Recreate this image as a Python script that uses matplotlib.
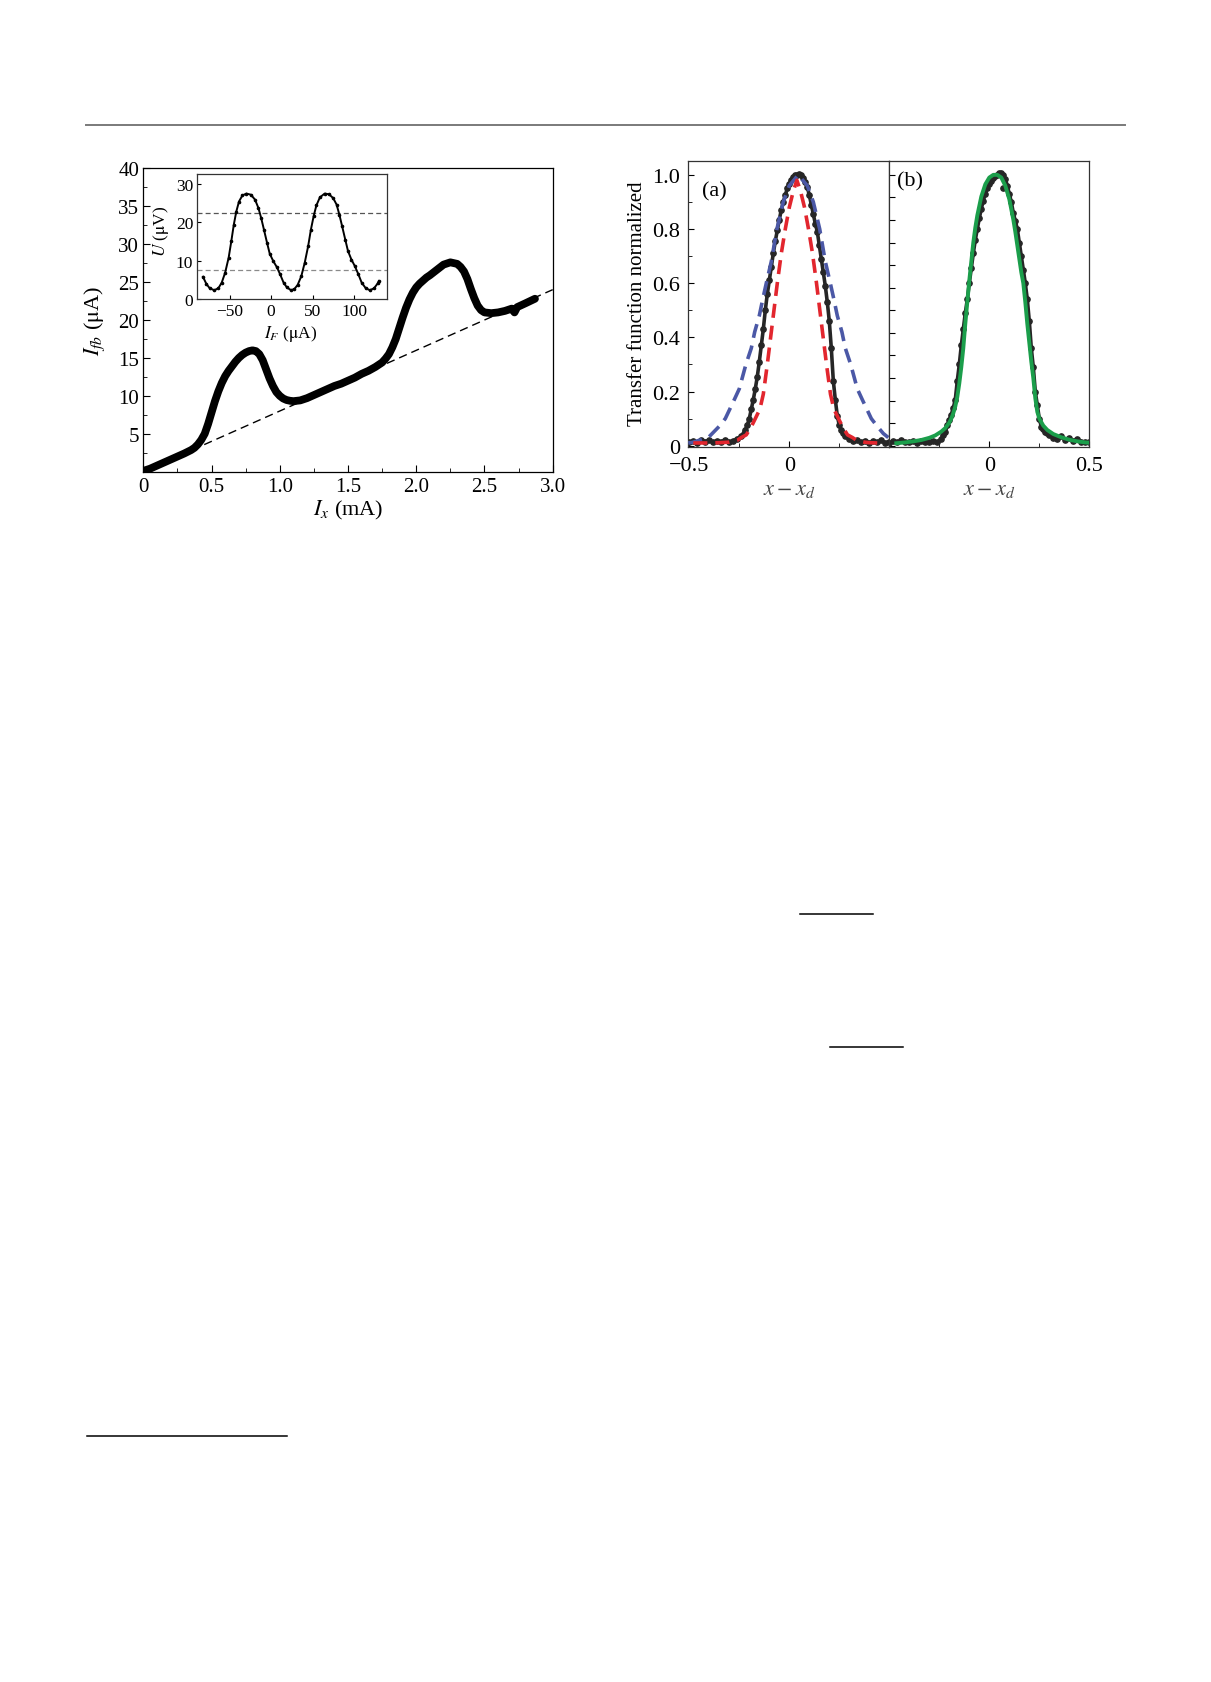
import matplotlib
matplotlib.use('Agg')
import matplotlib.pyplot as plt
from matplotlib.lines import Line2D
from matplotlib.ticker import MultipleLocator, FixedLocator, NullFormatter

plt.rcParams['font.family'] = ['Liberation Serif', 'DejaVu Serif']
plt.rcParams['mathtext.fontset'] = 'stix'

# ---------------- data: main panel (I_fb vs I_x) ----------------
ix = [0.0, 0.05, 0.1, 0.15, 0.2, 0.25, 0.3, 0.35, 0.375, 0.4, 0.425, 0.45, 0.475,
      0.5, 0.525, 0.55, 0.575, 0.6, 0.625, 0.65, 0.675, 0.7, 0.725, 0.75, 0.775,
      0.8, 0.825, 0.85, 0.875, 0.9, 0.925, 0.95, 0.975, 1.0, 1.025, 1.05, 1.075,
      1.1, 1.15, 1.2, 1.25, 1.3, 1.35, 1.4, 1.45, 1.5, 1.55, 1.6, 1.65, 1.7, 1.75,
      1.775, 1.8, 1.825, 1.85, 1.875, 1.9, 1.925, 1.95, 1.975, 2.0, 2.025, 2.05,
      2.075, 2.1, 2.15, 2.2, 2.25, 2.3, 2.325, 2.35, 2.375, 2.4, 2.425, 2.45, 2.475,
      2.5, 2.55, 2.6, 2.65, 2.7, 2.72, 2.74, 2.8, 2.87]
ifb = [0.1, 0.4, 0.8, 1.2, 1.6, 2.0, 2.4, 2.85, 3.15, 3.6, 4.2, 5.0, 6.3,
       7.8, 9.3, 10.6, 11.7, 12.6, 13.3, 13.9, 14.5, 15.0, 15.4, 15.7, 15.9,
       16.0, 15.9, 15.5, 14.7, 13.5, 12.3, 11.3, 10.5, 10.0, 9.65, 9.45, 9.35,
       9.3, 9.4, 9.7, 10.1, 10.5, 10.9, 11.3, 11.6, 12.0, 12.4, 12.9, 13.3, 13.8, 14.4,
       14.9, 15.5, 16.4, 17.5, 18.9, 20.3, 21.6, 22.7, 23.6, 24.3, 24.8, 25.2,
       25.6, 25.9, 26.6, 27.3, 27.6, 27.4, 27.0, 26.4, 25.4, 24.1, 22.9, 21.9, 21.3,
       21.0, 20.9, 21.0, 21.2, 21.5, 21.0, 21.7, 22.2, 22.8]
base_x = [0.0, 3.0]
base_y = [0.0, 24.0]
main_xticks = [0, 0.5, 1.0, 1.5, 2.0, 2.5, 3.0]
main_xlabels = ['0', '0.5', '1.0', '1.5', '2.0', '2.5', '3.0']
main_yticks = [5, 10, 15, 20, 25, 30, 35, 40]

# ---------------- data: inset (U vs I_F) ----------------
i_f = [-82.2, -78, -74, -68.6, -63.6, -59.5, -55.4, -51.2, -48, -45, -42, -38.8,
       -34.7, -29.8, -24.4, -19.4, -15.3, -12, -8.7, -5, -1.7, 2.5, 6.6, 10.7, 14.9,
       19, 24, 28, 32, 36.4, 40.5, 44.6, 47.9, 51.2, 54.5, 58.7, 64.5, 69.8, 74.8,
       78.9, 82.2, 85.5, 89.3, 92.6, 96.7, 100.8, 105, 109, 114, 119, 124, 128.5, 129.8]
u_v = [5.8, 3.9, 2.8, 2.3, 2.8, 4.3, 6.9, 10.8, 15.1, 19.4, 22.8, 25.4,
       27.0, 27.5, 27.2, 25.9, 23.7, 21.1, 18.1, 14.7, 11.8, 9.9, 8.4, 6.5, 4.3,
       3.0, 2.3, 2.6, 3.7, 6.0, 9.5, 13.8, 18.1, 21.6, 24.4, 26.5, 27.5, 27.3, 26.3,
       24.6, 22.0, 19.0, 15.5, 12.5, 10.3, 8.6, 6.5, 4.3, 2.8, 2.3, 2.8, 4.1, 4.7]
u_levels = [22.5, 7.5]
inset_xticks = [-50, 0, 50, 100]
inset_xlabels = ['\u221250', '0', '50', '100']
inset_yticks = [0, 10, 20, 30]

# ---------------- data: transfer functions ----------------
xa = [-0.50, -0.48, -0.46, -0.44, -0.42, -0.40, -0.38, -0.36, -0.34, -0.32, -0.30,
      -0.28, -0.26, -0.24, -0.22, -0.21, -0.20, -0.19, -0.18, -0.17, -0.16, -0.15,
      -0.14, -0.13, -0.12, -0.11, -0.10, -0.09, -0.08, -0.07, -0.06, -0.05, -0.04,
      -0.03, -0.02, -0.01, 0.00, 0.01, 0.02, 0.03, 0.04, 0.05, 0.06, 0.07, 0.08,
      0.09, 0.10, 0.11, 0.12, 0.13, 0.14, 0.15, 0.16, 0.17, 0.18, 0.19, 0.20, 0.21,
      0.22, 0.23, 0.24, 0.25, 0.26, 0.27, 0.28, 0.30, 0.32, 0.34, 0.36, 0.38, 0.40,
      0.42, 0.44, 0.46, 0.48, 0.50]
ya = [0.012, 0.018, 0.010, 0.022, 0.015, 0.020, 0.012, 0.018, 0.014, 0.022, 0.012,
      0.018, 0.025, 0.035, 0.058, 0.075, 0.10, 0.135, 0.17, 0.21, 0.255, 0.31,
      0.37, 0.43, 0.50, 0.56, 0.61, 0.66, 0.71, 0.755, 0.795, 0.835, 0.87,
      0.90, 0.925, 0.95, 0.968, 0.982, 0.992, 0.998, 1.0, 1.002, 1.0, 0.99, 0.975,
      0.955, 0.925, 0.89, 0.855, 0.82, 0.79, 0.74, 0.69, 0.64, 0.59, 0.53, 0.46, 0.36,
      0.24, 0.17, 0.11, 0.075, 0.058, 0.045, 0.035, 0.025, 0.018, 0.022, 0.012, 0.018,
      0.010, 0.016, 0.012, 0.020, 0.010, 0.015]

x_red = [-0.48, -0.45, -0.40, -0.35, -0.30, -0.26, -0.24, -0.215, -0.19, -0.17, -0.147,
         -0.13, -0.11, -0.09, -0.07, -0.06, -0.04, -0.02, 0.00, 0.02, 0.038, 0.056,
         0.076, 0.096, 0.116, 0.136, 0.146, 0.166, 0.186, 0.206, 0.223, 0.246, 0.266,
         0.291, 0.316, 0.336, 0.376, 0.40, 0.44]
y_red = [0.01, 0.01, 0.01, 0.011, 0.013, 0.02, 0.03, 0.04, 0.07, 0.10, 0.135,
         0.19, 0.30, 0.42, 0.54, 0.60, 0.71, 0.80, 0.88, 0.94, 0.98, 0.94,
         0.88, 0.80, 0.71, 0.60, 0.54, 0.42, 0.30, 0.19, 0.135, 0.10, 0.07,
         0.04, 0.03, 0.02, 0.013, 0.011, 0.01]

x_blue = [-0.505, -0.485, -0.45, -0.405, -0.347, -0.32, -0.275, -0.25, -0.217, -0.19,
          -0.173, -0.15, -0.133, -0.115, -0.09, -0.062, -0.03, 0.0, 0.045, 0.09,
          0.12, 0.152, 0.18, 0.205, 0.223, 0.24, 0.263, 0.28, 0.307, 0.34, 0.365,
          0.41, 0.437, 0.47, 0.495]
y_blue = [0.010, 0.012, 0.02, 0.03, 0.074, 0.10, 0.17, 0.21, 0.30, 0.36,
          0.42, 0.48, 0.54, 0.60, 0.68, 0.80, 0.90, 0.96, 1.0, 0.96,
          0.90, 0.80, 0.68, 0.60, 0.54, 0.48, 0.42, 0.36, 0.30, 0.21, 0.17,
          0.10, 0.074, 0.045, 0.03]

xb = [-0.50, -0.48, -0.46, -0.44, -0.42, -0.40, -0.38, -0.36, -0.34, -0.32, -0.30,
      -0.28, -0.26, -0.24, -0.23, -0.22, -0.21, -0.20, -0.19, -0.18, -0.17, -0.16,
      -0.15, -0.14, -0.13, -0.12, -0.11, -0.10, -0.09, -0.08, -0.07, -0.06, -0.05,
      -0.04, -0.03, -0.02, -0.01, 0.00, 0.01, 0.02, 0.03, 0.04, 0.05, 0.06, 0.07,
      0.08, 0.09, 0.10, 0.11, 0.12, 0.13, 0.14, 0.15, 0.16, 0.17, 0.18, 0.19, 0.20,
      0.21, 0.22, 0.23, 0.24, 0.25, 0.26, 0.27, 0.28, 0.29, 0.30, 0.32, 0.34, 0.36,
      0.38, 0.40, 0.42, 0.44, 0.46, 0.48, 0.50]
yb = [0.010, 0.016, 0.012, 0.020, 0.014, 0.012, 0.018, 0.010, 0.016, 0.012, 0.015,
      0.018, 0.012, 0.025, 0.040, 0.050, 0.075, 0.095, 0.115, 0.14, 0.17, 0.24,
      0.30, 0.37, 0.43, 0.49, 0.54, 0.60, 0.655, 0.71, 0.76, 0.80, 0.84,
      0.875, 0.905, 0.93, 0.95, 0.965, 0.978, 0.988, 0.996, 1.0, 1.005, 1.008, 1.0,
      0.985, 0.96, 0.93, 0.90, 0.86, 0.83, 0.80, 0.75, 0.70, 0.65, 0.60, 0.54, 0.46,
      0.36, 0.29, 0.20, 0.15, 0.10, 0.07, 0.06, 0.05, 0.045, 0.04, 0.03, 0.025, 0.035,
      0.022, 0.028, 0.018, 0.025, 0.015, 0.012, 0.014]
xb_out = [0.07]
yb_out = [0.95]

x_green = [-0.465, -0.42, -0.38, -0.34, -0.30, -0.27, -0.24, -0.22, -0.20, -0.19,
           -0.18, -0.17, -0.16, -0.15, -0.14, -0.13, -0.12, -0.11, -0.10, -0.09,
           -0.08, -0.07, -0.06, -0.04, -0.02, 0.00, 0.02, 0.04, 0.06, 0.08, 0.10,
           0.12, 0.13, 0.14, 0.15, 0.16, 0.17, 0.18, 0.19, 0.20, 0.21, 0.22, 0.23,
           0.24, 0.25, 0.27, 0.29, 0.32, 0.36, 0.40, 0.44, 0.48, 0.50]
y_green = [0.009, 0.012, 0.016, 0.021, 0.029, 0.038, 0.052, 0.065, 0.085, 0.10,
           0.12, 0.145, 0.18, 0.23, 0.29, 0.36, 0.45, 0.53, 0.61, 0.68,
           0.75, 0.805, 0.85, 0.92, 0.965, 0.99, 1.0, 1.0, 0.99, 0.96, 0.91,
           0.835, 0.79, 0.74, 0.69, 0.64, 0.60, 0.53, 0.45, 0.38, 0.31, 0.25, 0.175,
           0.125, 0.10, 0.074, 0.058, 0.043, 0.031, 0.022, 0.016, 0.012, 0.011]

W, H = 1211, 1683
fig = plt.figure(figsize=(W / 100, H / 100), dpi=100)


def box(l, t, r, b):
    return [l / W, 1 - b / H, (r - l) / W, (b - t) / H]


# ---------------- page decorations ----------------
def hline(x0, x1, y, color, lw):
    fig.add_artist(Line2D([x0 / W, x1 / W], [1 - y / H, 1 - y / H],
                          transform=fig.transFigure, color=color, lw=lw))


hline(86, 1125, 125.6, '#7a7a7a', 1.4)
hline(87, 287, 1437, 'black', 1.1)
hline(800, 873, 915, 'black', 1.1)
hline(830, 903, 1048, 'black', 1.1)

# ---------------- main panel ----------------
ax = fig.add_axes(box(143.3, 169.3, 552.7, 472.7))
ax.plot(base_x, base_y, color='black', lw=1.0, dashes=(6, 3.6), zorder=1)
ax.plot(ix, ifb, color='black', lw=5.6, solid_capstyle='round',
        solid_joinstyle='round', zorder=2)
ax.set_xlim(0, 3.0)
ax.set_ylim(0, 40)
ax.set_xticks(main_xticks)
ax.set_xticklabels(main_xlabels)
ax.set_yticks(main_yticks)
ax.xaxis.set_minor_locator(MultipleLocator(0.25))
ax.yaxis.set_minor_locator(MultipleLocator(2.5))
ax.tick_params(which='both', direction='in', labelsize=15)
ax.tick_params(axis='x', which='major', length=5, pad=4)
ax.tick_params(axis='y', which='major', length=5, pad=3)
ax.tick_params(which='minor', length=3)
for s in ax.spines.values():
    s.set_linewidth(0.9)
ax.set_xlabel(r'$I_x$ (mA)', fontsize=16)
ax.xaxis.set_label_coords(0.5, -0.085)
ax.set_ylabel(r'$I_{fb}$ ($\mathrm{\mu}$A)', fontsize=16)
ax.yaxis.set_label_coords(-0.089, 0.5)

# ---------------- inset ----------------
axi = fig.add_axes(box(197.3, 175, 386.5, 300))
for lev, col in zip(u_levels, ['#555555', '#8a8a8a']):
    axi.axhline(lev, color=col, lw=0.9, dashes=(4, 2.5), zorder=1)
axi.plot(i_f, u_v, color='black', lw=1.4, marker='o', ms=1.6, zorder=2)
axi.set_xlim(-89, 139)
axi.set_ylim(0, 32.6)
axi.set_xticks(inset_xticks)
axi.set_xticklabels(inset_xlabels)
axi.set_yticks(inset_yticks)
axi.tick_params(which='both', direction='in', labelsize=12.5, length=3, pad=3)
for s in axi.spines.values():
    s.set_linewidth(0.9)
    s.set_color('#333333')
axi.set_xlabel(r'$I_F$ ($\mathrm{\mu}$A)', fontsize=12.5)
axi.xaxis.set_label_coords(0.49, -0.19)
axi.set_ylabel(r'$U$ ($\mathrm{\mu}$V)', fontsize=12.5)
axi.yaxis.set_label_coords(-0.14, 0.55)

# ---------------- transfer function panels ----------------
axa = fig.add_axes(box(688.3, 162.3, 889.3, 448.3))
axb = fig.add_axes(box(889.3, 162.3, 1089.3, 448.3))

dcol = '#262626'
red = '#e2262e'
blue = '#4b58a6'
green = '#1b9e4b'

axa.plot(xa, ya, color=dcol, lw=2.6, marker='o', ms=3.8, zorder=2)
axa.plot(x_blue, y_blue, color=blue, lw=2.6, dashes=(3.9, 2.2), zorder=3)
axa.plot(x_red, y_red, color=red, lw=2.6, dashes=(3.9, 2.2), zorder=4)
axa.text(0.067, 0.898, '(a)', transform=axa.transAxes, fontsize=16,
         ha='left', va='center')

axb.plot(xb, yb, color=dcol, lw=2.6, marker='o', ms=3.8, zorder=2)
axb.plot(xb_out, yb_out, color=dcol, ls='none', marker='o', ms=3.8, zorder=2)
axb.plot(x_green, y_green, color=green, lw=2.8, zorder=3)
axb.text(0.037, 0.933, '(b)', transform=axb.transAxes, fontsize=16,
         ha='left', va='center')

for a in (axa, axb):
    a.set_ylim(-0.006, 1.05)
    a.tick_params(which='both', direction='in', labelsize=16, pad=6)
    a.tick_params(which='major', length=4)
    a.tick_params(which='minor', length=3)
    for s in a.spines.values():
        s.set_linewidth(0.9)
        s.set_color('#333333')
    a.set_xlabel(r'$x-x_d$', fontsize=16, color='#444444')
    a.xaxis.set_label_coords(0.5, -0.115)

axa.set_xlim(-0.505, 0.5)
axa.set_xticks([-0.5, 0])
axa.set_xticklabels(['\u22120.5', '0'])
axa.xaxis.set_minor_locator(FixedLocator([-0.25, 0.25]))
axa.set_yticks([0, 0.2, 0.4, 0.6, 0.8, 1.0])
axa.set_yticklabels(['0', '0.2', '0.4', '0.6', '0.8', '1.0'])
axa.yaxis.set_minor_locator(FixedLocator([0.1, 0.3, 0.5, 0.7, 0.9]))
axa.set_ylabel('Transfer function normalized', fontsize=15)
axa.yaxis.set_label_coords(-0.207, 0.505)

axb.set_xlim(-0.5, 0.5)
axb.set_xticks([0, 0.5])
axb.set_xticklabels(['0', '0.5'])
axb.xaxis.set_minor_locator(FixedLocator([-0.25, 0.25]))
axb.set_yticks([k / 12 for k in range(13)])
axb.yaxis.set_major_formatter(NullFormatter())

fig.savefig('out.png', dpi=100)
